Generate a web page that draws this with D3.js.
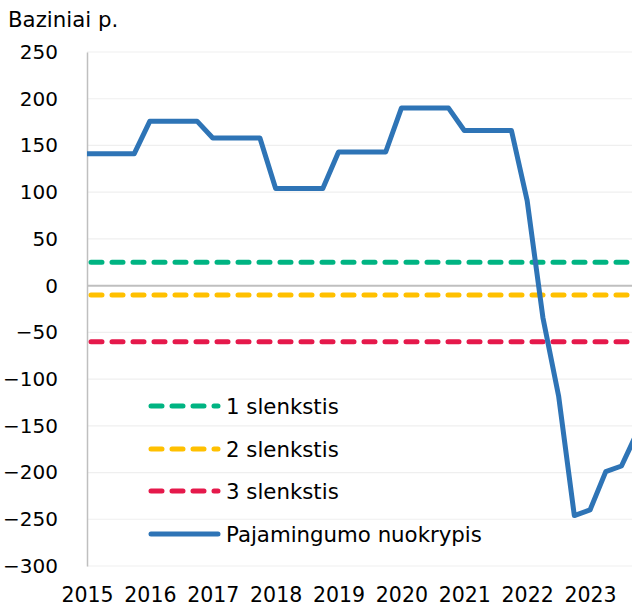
<!DOCTYPE html>
<html>
<head>
<meta charset="utf-8">
<script src="https://cdn.jsdelivr.net/npm/d3@7/dist/d3.min.js"></script>
<style>
  body { margin: 0; background: #fff; }
  svg { display: block; font-family: "DejaVu Sans", Verdana, sans-serif; }
</style>
</head>
<body>
<svg width="632" height="608"></svg>
<script>
//	data
var quarters = d3.range(0, 36); // 2015Q1 .. 2023Q4
var yearLabels = ["2015", "2016", "2017", "2018", "2019", "2020", "2021", "2022", "2023"];
var gapValues = [
    141, 141, 141, 141,
    176, 176, 176, 176,
    158, 158, 158, 158,
    104, 104, 104, 104,
    143, 143, 143, 143,
    190, 190, 190, 190,
    166, 166, 166, 166,
    91, -34, -118, -246,
    -240, -199, -193, -157
];
var thresholdNames = ["1 slenkstis", "2 slenkstis", "3 slenkstis"];
var thresholdValues = [25, -10, -60];
var thresholdColors = ["#00b482", "#ffc000", "#e5194b"];
var yTicks = [250, 200, 150, 100, 50, 0, -50, -100, -150, -200, -250, -300];

//	svg and sizing
var svg = d3.select("svg"),
        width = +svg.attr("width"),
        height = +svg.attr("height");

var plotLeft = 87, plotTop = 52, plotBottom = 566;
var qStep = 15.72;

var x = d3.scaleLinear()
        .domain([0, 35])
        .range([plotLeft, plotLeft + 35 * qStep]);
var y = d3.scaleLinear()
        .domain([-300, 250])
        .range([plotBottom, plotTop]);

//	gridlines
svg.append("g").selectAll("line")
        .data(yTicks.filter(function (d) { return d !== 0; }))
        .enter().append("line")
        .attr("x1", plotLeft).attr("x2", width)
        .attr("y1", function (d) { return y(d); })
        .attr("y2", function (d) { return y(d); })
        .attr("stroke", "#efefef")
        .attr("stroke-width", 1.2);

//	y axis
var yAxis = svg.append("g")
        .attr("transform", "translate(" + plotLeft + ",0)")
        .call(d3.axisLeft(y).tickValues(yTicks).tickSize(0).tickPadding(29)
                .tickFormat(function (d) { return d < 0 ? "\u2212" + Math.abs(d) : d; }));
yAxis.select(".domain").attr("stroke", "#bfbfbf").attr("stroke-width", 1.5);
yAxis.selectAll("text")
        .attr("font-size", 20)
        .attr("fill", "#000")
        .attr("font-family", "DejaVu Sans, Verdana, sans-serif");

//	zero line
svg.append("line")
        .attr("x1", plotLeft).attr("x2", width)
        .attr("y1", y(0)).attr("y2", y(0))
        .attr("stroke", "#bfbfbf")
        .attr("stroke-width", 2);

//	x axis labels
var xAxis = svg.append("g")
        .attr("transform", "translate(0," + plotBottom + ")")
        .call(d3.axisBottom(x)
                .tickValues(d3.range(0, 36, 4))
                .tickSize(0)
                .tickPadding(21)
                .tickFormat(function (d, i) { return yearLabels[i]; }));
xAxis.select(".domain").remove();
xAxis.selectAll("text")
        .attr("font-size", 20.5)
        .attr("fill", "#000")
        .attr("font-family", "DejaVu Sans, Verdana, sans-serif");

//	threshold lines
svg.append("g").selectAll("line")
        .data(thresholdValues)
        .enter().append("line")
        .attr("x1", plotLeft + 4).attr("x2", width + 20)
        .attr("y1", function (d) { return y(d); })
        .attr("y2", function (d) { return y(d); })
        .attr("stroke", function (d, i) { return thresholdColors[i]; })
        .attr("stroke-width", 5)
        .attr("stroke-linecap", "round")
        .attr("stroke-dasharray", "11,10");

//	main line
var line = d3.line()
        .x(function (d, i) { return x(quarters[i]); })
        .y(function (d) { return y(d); });
svg.append("path")
        .datum(gapValues)
        .attr("d", line)
        .attr("fill", "none")
        .attr("stroke", "#2e74b6")
        .attr("stroke-width", 5)
        .attr("stroke-linejoin", "round");

//	legend
var legendY = [406, 449, 491, 534];
var legend = svg.append("g");
thresholdNames.forEach(function (name, i) {
    legend.append("line")
            .attr("x1", 151).attr("x2", 218)
            .attr("y1", legendY[i]).attr("y2", legendY[i])
            .attr("stroke", thresholdColors[i])
            .attr("stroke-width", 5)
            .attr("stroke-linecap", "round")
            .attr("stroke-dasharray", "11,10");
    legend.append("text")
            .attr("x", 226).attr("y", legendY[i] + 7.5)
            .attr("font-size", 21.3)
            .text(name);
});
legend.append("line")
        .attr("x1", 151).attr("x2", 218)
        .attr("y1", legendY[3]).attr("y2", legendY[3])
        .attr("stroke", "#2e74b6")
        .attr("stroke-width", 5)
        .attr("stroke-linecap", "round");
legend.append("text")
        .attr("x", 226).attr("y", legendY[3] + 7.5)
        .attr("font-size", 21.3)
        .text("Pajamingumo nuokrypis");

//	title
svg.append("text")
        .attr("x", 8).attr("y", 27)
        .attr("font-size", 21.3)
        .text("Baziniai p.");
</script>
</body>
</html>
